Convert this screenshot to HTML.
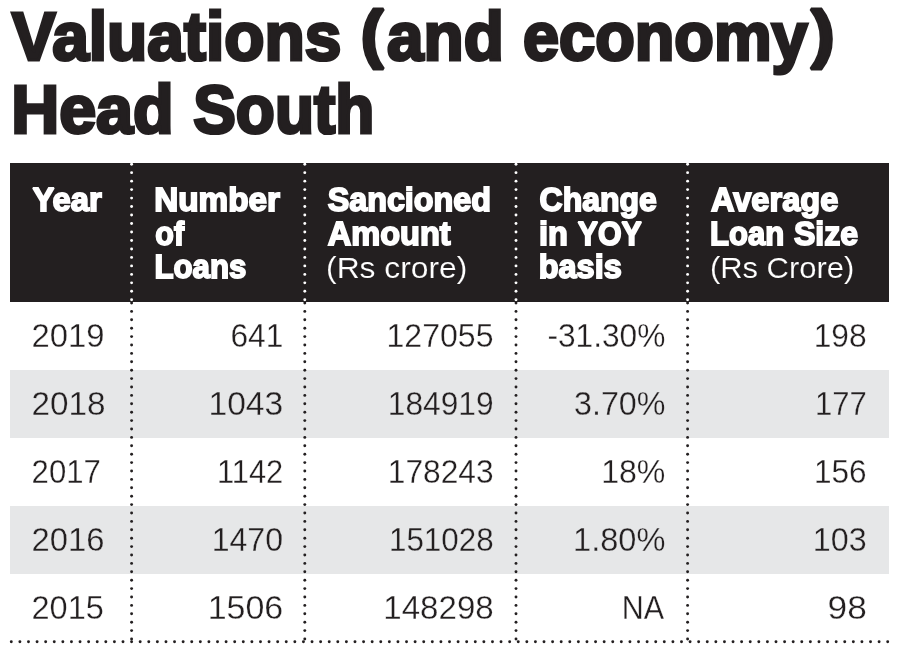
<!DOCTYPE html>
<html><head><meta charset="utf-8"><title>Valuations (and economy) Head South</title>
<style>
html,body{margin:0;padding:0;background:#fff;width:900px;height:654px;overflow:hidden}
svg{display:block;will-change:transform}
text{font-family:"Liberation Sans",sans-serif}
</style></head><body>
<svg width="900" height="654" viewBox="0 0 900 654">
<rect x="10" y="163" width="879" height="139" fill="#231f20"/>
<rect x="10" y="370" width="879" height="68" fill="#e6e7e8"/>
<rect x="10" y="506" width="879" height="68" fill="#e6e7e8"/>
<text x="11.85" y="60.40" font-size="68.02" font-weight="bold" textLength="329.52" lengthAdjust="spacingAndGlyphs" fill="#231f20" stroke="#231f20" stroke-width="3.2" stroke-linejoin="miter" stroke-miterlimit="2">Valuations</text>
<text x="360.81" y="56.09" font-size="64.15" font-weight="bold" textLength="22.65" lengthAdjust="spacingAndGlyphs" fill="#231f20" stroke="#231f20" stroke-width="3.2" stroke-linejoin="miter" stroke-miterlimit="2">(</text>
<text x="387.08" y="60.40" font-size="68.02" font-weight="bold" textLength="116.65" lengthAdjust="spacingAndGlyphs" fill="#231f20" stroke="#231f20" stroke-width="3.2" stroke-linejoin="miter" stroke-miterlimit="2">and</text>
<text x="523.07" y="60.40" font-size="68.02" font-weight="bold" textLength="284.58" lengthAdjust="spacingAndGlyphs" fill="#231f20" stroke="#231f20" stroke-width="3.2" stroke-linejoin="miter" stroke-miterlimit="2">economy</text>
<text x="811.03" y="56.09" font-size="64.15" font-weight="bold" textLength="23.60" lengthAdjust="spacingAndGlyphs" fill="#231f20" stroke="#231f20" stroke-width="3.2" stroke-linejoin="miter" stroke-miterlimit="2">)</text>
<text x="11.15" y="133.40" font-size="68.02" font-weight="bold" textLength="162.53" lengthAdjust="spacingAndGlyphs" fill="#231f20" stroke="#231f20" stroke-width="3.2" stroke-linejoin="miter" stroke-miterlimit="2">Head</text>
<text x="193.16" y="133.40" font-size="68.02" font-weight="bold" textLength="181.21" lengthAdjust="spacingAndGlyphs" fill="#231f20" stroke="#231f20" stroke-width="3.2" stroke-linejoin="miter" stroke-miterlimit="2">South</text>
<text x="32.55" y="210.80" font-size="33.14" font-weight="bold" textLength="69.23" lengthAdjust="spacingAndGlyphs" fill="#fff" stroke="#fff" stroke-width="1.8" stroke-linejoin="miter" stroke-miterlimit="2">Year</text>
<text x="154.27" y="210.80" font-size="33.14" font-weight="bold" textLength="125.73" lengthAdjust="spacingAndGlyphs" fill="#fff" stroke="#fff" stroke-width="1.8" stroke-linejoin="miter" stroke-miterlimit="2">Number</text>
<text x="155.31" y="244.60" font-size="33.14" font-weight="bold" textLength="28.73" lengthAdjust="spacingAndGlyphs" fill="#fff" stroke="#fff" stroke-width="1.8" stroke-linejoin="miter" stroke-miterlimit="2">of</text>
<text x="154.41" y="277.80" font-size="33.14" font-weight="bold" textLength="91.97" lengthAdjust="spacingAndGlyphs" fill="#fff" stroke="#fff" stroke-width="1.8" stroke-linejoin="miter" stroke-miterlimit="2">Loans</text>
<text x="327.67" y="210.80" font-size="33.14" font-weight="bold" textLength="163.36" lengthAdjust="spacingAndGlyphs" fill="#fff" stroke="#fff" stroke-width="1.8" stroke-linejoin="miter" stroke-miterlimit="2">Sancioned</text>
<text x="327.79" y="244.60" font-size="33.14" font-weight="bold" textLength="122.91" lengthAdjust="spacingAndGlyphs" fill="#fff" stroke="#fff" stroke-width="1.8" stroke-linejoin="miter" stroke-miterlimit="2">Amount</text>
<text x="539.59" y="210.80" font-size="33.14" font-weight="bold" textLength="117.31" lengthAdjust="spacingAndGlyphs" fill="#fff" stroke="#fff" stroke-width="1.8" stroke-linejoin="miter" stroke-miterlimit="2">Change</text>
<text x="538.93" y="244.60" font-size="33.14" font-weight="bold" textLength="28.89" lengthAdjust="spacingAndGlyphs" fill="#fff" stroke="#fff" stroke-width="1.8" stroke-linejoin="miter" stroke-miterlimit="2">in</text>
<text x="577.78" y="244.60" font-size="33.14" font-weight="bold" textLength="64.11" lengthAdjust="spacingAndGlyphs" fill="#fff" stroke="#fff" stroke-width="1.8" stroke-linejoin="miter" stroke-miterlimit="2">YOY</text>
<text x="538.76" y="277.80" font-size="33.14" font-weight="bold" textLength="82.97" lengthAdjust="spacingAndGlyphs" fill="#fff" stroke="#fff" stroke-width="1.8" stroke-linejoin="miter" stroke-miterlimit="2">basis</text>
<text x="710.90" y="210.80" font-size="33.14" font-weight="bold" textLength="127.41" lengthAdjust="spacingAndGlyphs" fill="#fff" stroke="#fff" stroke-width="1.8" stroke-linejoin="miter" stroke-miterlimit="2">Average</text>
<text x="710.12" y="244.60" font-size="33.14" font-weight="bold" textLength="74.10" lengthAdjust="spacingAndGlyphs" fill="#fff" stroke="#fff" stroke-width="1.8" stroke-linejoin="miter" stroke-miterlimit="2">Loan</text>
<text x="793.88" y="244.60" font-size="33.14" font-weight="bold" textLength="64.22" lengthAdjust="spacingAndGlyphs" fill="#fff" stroke="#fff" stroke-width="1.8" stroke-linejoin="miter" stroke-miterlimit="2">Size</text>
<text x="326.05" y="278.47" font-size="29.14" font-weight="normal" textLength="141.29" lengthAdjust="spacingAndGlyphs" fill="#fff" stroke="#231f20" stroke-width="0.15" stroke-linejoin="miter" stroke-miterlimit="2">(Rs crore)</text>
<text x="709.91" y="278.47" font-size="29.14" font-weight="normal" textLength="144.39" lengthAdjust="spacingAndGlyphs" fill="#fff" stroke="#231f20" stroke-width="0.15" stroke-linejoin="miter" stroke-miterlimit="2">(Rs Crore)</text>
<text x="31.50" y="347.05" font-size="33.08" font-weight="normal" textLength="73.00" lengthAdjust="spacingAndGlyphs" fill="#231f20" stroke="#fff" stroke-width="0.3" stroke-linejoin="miter" stroke-miterlimit="2">2019</text>
<text x="230.44" y="347.05" font-size="33.08" font-weight="normal" textLength="52.86" lengthAdjust="spacingAndGlyphs" fill="#231f20" stroke="#fff" stroke-width="0.3" stroke-linejoin="miter" stroke-miterlimit="2">641</text>
<text x="386.51" y="347.05" font-size="33.08" font-weight="normal" textLength="106.99" lengthAdjust="spacingAndGlyphs" fill="#231f20" stroke="#fff" stroke-width="0.3" stroke-linejoin="miter" stroke-miterlimit="2">127055</text>
<text x="547.44" y="347.05" font-size="33.08" font-weight="normal" textLength="117.94" lengthAdjust="spacingAndGlyphs" fill="#231f20" stroke="#fff" stroke-width="0.3" stroke-linejoin="miter" stroke-miterlimit="2">-31.30%</text>
<text x="813.63" y="347.05" font-size="33.08" font-weight="normal" textLength="53.00" lengthAdjust="spacingAndGlyphs" fill="#231f20" stroke="#fff" stroke-width="0.3" stroke-linejoin="miter" stroke-miterlimit="2">198</text>
<text x="31.48" y="414.95" font-size="33.08" font-weight="normal" textLength="74.02" lengthAdjust="spacingAndGlyphs" fill="#231f20" stroke="#e6e7e8" stroke-width="0.3" stroke-linejoin="miter" stroke-miterlimit="2">2018</text>
<text x="208.49" y="414.95" font-size="33.08" font-weight="normal" textLength="74.74" lengthAdjust="spacingAndGlyphs" fill="#231f20" stroke="#e6e7e8" stroke-width="0.3" stroke-linejoin="miter" stroke-miterlimit="2">1043</text>
<text x="387.83" y="414.95" font-size="33.08" font-weight="normal" textLength="105.82" lengthAdjust="spacingAndGlyphs" fill="#231f20" stroke="#e6e7e8" stroke-width="0.3" stroke-linejoin="miter" stroke-miterlimit="2">184919</text>
<text x="574.02" y="414.95" font-size="33.08" font-weight="normal" textLength="91.38" lengthAdjust="spacingAndGlyphs" fill="#231f20" stroke="#e6e7e8" stroke-width="0.3" stroke-linejoin="miter" stroke-miterlimit="2">3.70%</text>
<text x="815.08" y="414.95" font-size="33.08" font-weight="normal" textLength="51.83" lengthAdjust="spacingAndGlyphs" fill="#231f20" stroke="#e6e7e8" stroke-width="0.3" stroke-linejoin="miter" stroke-miterlimit="2">177</text>
<text x="31.58" y="482.85" font-size="33.08" font-weight="normal" textLength="69.23" lengthAdjust="spacingAndGlyphs" fill="#231f20" stroke="#fff" stroke-width="0.3" stroke-linejoin="miter" stroke-miterlimit="2">2017</text>
<text x="216.88" y="482.85" font-size="33.08" font-weight="normal" textLength="66.37" lengthAdjust="spacingAndGlyphs" fill="#231f20" stroke="#fff" stroke-width="0.3" stroke-linejoin="miter" stroke-miterlimit="2">1142</text>
<text x="387.84" y="482.85" font-size="33.08" font-weight="normal" textLength="105.71" lengthAdjust="spacingAndGlyphs" fill="#231f20" stroke="#fff" stroke-width="0.3" stroke-linejoin="miter" stroke-miterlimit="2">178243</text>
<text x="601.21" y="482.85" font-size="33.08" font-weight="normal" textLength="64.19" lengthAdjust="spacingAndGlyphs" fill="#231f20" stroke="#fff" stroke-width="0.3" stroke-linejoin="miter" stroke-miterlimit="2">18%</text>
<text x="813.94" y="482.85" font-size="33.08" font-weight="normal" textLength="52.69" lengthAdjust="spacingAndGlyphs" fill="#231f20" stroke="#fff" stroke-width="0.3" stroke-linejoin="miter" stroke-miterlimit="2">156</text>
<text x="31.50" y="550.75" font-size="33.08" font-weight="normal" textLength="72.89" lengthAdjust="spacingAndGlyphs" fill="#231f20" stroke="#e6e7e8" stroke-width="0.3" stroke-linejoin="miter" stroke-miterlimit="2">2016</text>
<text x="211.71" y="550.75" font-size="33.08" font-weight="normal" textLength="71.29" lengthAdjust="spacingAndGlyphs" fill="#231f20" stroke="#e6e7e8" stroke-width="0.3" stroke-linejoin="miter" stroke-miterlimit="2">1470</text>
<text x="388.96" y="550.75" font-size="33.08" font-weight="normal" textLength="104.65" lengthAdjust="spacingAndGlyphs" fill="#231f20" stroke="#e6e7e8" stroke-width="0.3" stroke-linejoin="miter" stroke-miterlimit="2">151028</text>
<text x="573.07" y="550.75" font-size="33.08" font-weight="normal" textLength="92.34" lengthAdjust="spacingAndGlyphs" fill="#231f20" stroke="#e6e7e8" stroke-width="0.3" stroke-linejoin="miter" stroke-miterlimit="2">1.80%</text>
<text x="812.79" y="550.75" font-size="33.08" font-weight="normal" textLength="53.88" lengthAdjust="spacingAndGlyphs" fill="#231f20" stroke="#e6e7e8" stroke-width="0.3" stroke-linejoin="miter" stroke-miterlimit="2">103</text>
<text x="31.51" y="618.65" font-size="33.08" font-weight="normal" textLength="72.40" lengthAdjust="spacingAndGlyphs" fill="#231f20" stroke="#fff" stroke-width="0.3" stroke-linejoin="miter" stroke-miterlimit="2">2015</text>
<text x="207.66" y="618.65" font-size="33.08" font-weight="normal" textLength="75.58" lengthAdjust="spacingAndGlyphs" fill="#231f20" stroke="#fff" stroke-width="0.3" stroke-linejoin="miter" stroke-miterlimit="2">1506</text>
<text x="383.33" y="618.65" font-size="33.08" font-weight="normal" textLength="110.36" lengthAdjust="spacingAndGlyphs" fill="#231f20" stroke="#fff" stroke-width="0.3" stroke-linejoin="miter" stroke-miterlimit="2">148298</text>
<text x="621.75" y="618.65" font-size="33.58" font-weight="normal" textLength="42.36" lengthAdjust="spacingAndGlyphs" fill="#231f20" stroke="#fff" stroke-width="0.3" stroke-linejoin="miter" stroke-miterlimit="2">NA</text>
<text x="827.60" y="618.65" font-size="33.08" font-weight="normal" textLength="39.18" lengthAdjust="spacingAndGlyphs" fill="#231f20" stroke="#fff" stroke-width="0.3" stroke-linejoin="miter" stroke-miterlimit="2">98</text>
<g><circle cx="131.6" cy="164.20" r="1.45" fill="#fff"/><circle cx="131.6" cy="172.67" r="1.45" fill="#fff"/><circle cx="131.6" cy="181.15" r="1.45" fill="#fff"/><circle cx="131.6" cy="189.62" r="1.45" fill="#fff"/><circle cx="131.6" cy="198.10" r="1.45" fill="#fff"/><circle cx="131.6" cy="206.57" r="1.45" fill="#fff"/><circle cx="131.6" cy="215.05" r="1.45" fill="#fff"/><circle cx="131.6" cy="223.52" r="1.45" fill="#fff"/><circle cx="131.6" cy="232.00" r="1.45" fill="#fff"/><circle cx="131.6" cy="240.47" r="1.45" fill="#fff"/><circle cx="131.6" cy="248.95" r="1.45" fill="#fff"/><circle cx="131.6" cy="257.42" r="1.45" fill="#fff"/><circle cx="131.6" cy="265.90" r="1.45" fill="#fff"/><circle cx="131.6" cy="274.38" r="1.45" fill="#fff"/><circle cx="131.6" cy="282.85" r="1.45" fill="#fff"/><circle cx="131.6" cy="291.32" r="1.45" fill="#fff"/><circle cx="131.6" cy="299.80" r="1.45" fill="#fff"/><circle cx="131.6" cy="303.00" r="1.45" fill="#231f20"/><circle cx="131.6" cy="311.40" r="1.45" fill="#231f20"/><circle cx="131.6" cy="319.80" r="1.45" fill="#231f20"/><circle cx="131.6" cy="328.20" r="1.45" fill="#231f20"/><circle cx="131.6" cy="336.60" r="1.45" fill="#231f20"/><circle cx="131.6" cy="345.00" r="1.45" fill="#231f20"/><circle cx="131.6" cy="353.40" r="1.45" fill="#231f20"/><circle cx="131.6" cy="361.80" r="1.45" fill="#231f20"/><circle cx="131.6" cy="370.20" r="1.45" fill="#231f20"/><circle cx="131.6" cy="378.60" r="1.45" fill="#231f20"/><circle cx="131.6" cy="387.00" r="1.45" fill="#231f20"/><circle cx="131.6" cy="395.40" r="1.45" fill="#231f20"/><circle cx="131.6" cy="403.80" r="1.45" fill="#231f20"/><circle cx="131.6" cy="412.20" r="1.45" fill="#231f20"/><circle cx="131.6" cy="420.60" r="1.45" fill="#231f20"/><circle cx="131.6" cy="429.00" r="1.45" fill="#231f20"/><circle cx="131.6" cy="437.40" r="1.45" fill="#231f20"/><circle cx="131.6" cy="445.80" r="1.45" fill="#231f20"/><circle cx="131.6" cy="454.20" r="1.45" fill="#231f20"/><circle cx="131.6" cy="462.60" r="1.45" fill="#231f20"/><circle cx="131.6" cy="471.00" r="1.45" fill="#231f20"/><circle cx="131.6" cy="479.40" r="1.45" fill="#231f20"/><circle cx="131.6" cy="487.80" r="1.45" fill="#231f20"/><circle cx="131.6" cy="496.20" r="1.45" fill="#231f20"/><circle cx="131.6" cy="504.60" r="1.45" fill="#231f20"/><circle cx="131.6" cy="513.00" r="1.45" fill="#231f20"/><circle cx="131.6" cy="521.40" r="1.45" fill="#231f20"/><circle cx="131.6" cy="529.80" r="1.45" fill="#231f20"/><circle cx="131.6" cy="538.20" r="1.45" fill="#231f20"/><circle cx="131.6" cy="546.60" r="1.45" fill="#231f20"/><circle cx="131.6" cy="555.00" r="1.45" fill="#231f20"/><circle cx="131.6" cy="563.40" r="1.45" fill="#231f20"/><circle cx="131.6" cy="571.80" r="1.45" fill="#231f20"/><circle cx="131.6" cy="580.20" r="1.45" fill="#231f20"/><circle cx="131.6" cy="588.60" r="1.45" fill="#231f20"/><circle cx="131.6" cy="597.00" r="1.45" fill="#231f20"/><circle cx="131.6" cy="605.40" r="1.45" fill="#231f20"/><circle cx="131.6" cy="613.80" r="1.45" fill="#231f20"/><circle cx="131.6" cy="622.20" r="1.45" fill="#231f20"/><circle cx="131.6" cy="630.60" r="1.45" fill="#231f20"/><circle cx="131.6" cy="639.00" r="1.45" fill="#231f20"/><circle cx="304.8" cy="164.20" r="1.45" fill="#fff"/><circle cx="304.8" cy="172.67" r="1.45" fill="#fff"/><circle cx="304.8" cy="181.15" r="1.45" fill="#fff"/><circle cx="304.8" cy="189.62" r="1.45" fill="#fff"/><circle cx="304.8" cy="198.10" r="1.45" fill="#fff"/><circle cx="304.8" cy="206.57" r="1.45" fill="#fff"/><circle cx="304.8" cy="215.05" r="1.45" fill="#fff"/><circle cx="304.8" cy="223.52" r="1.45" fill="#fff"/><circle cx="304.8" cy="232.00" r="1.45" fill="#fff"/><circle cx="304.8" cy="240.47" r="1.45" fill="#fff"/><circle cx="304.8" cy="248.95" r="1.45" fill="#fff"/><circle cx="304.8" cy="257.42" r="1.45" fill="#fff"/><circle cx="304.8" cy="265.90" r="1.45" fill="#fff"/><circle cx="304.8" cy="274.38" r="1.45" fill="#fff"/><circle cx="304.8" cy="282.85" r="1.45" fill="#fff"/><circle cx="304.8" cy="291.32" r="1.45" fill="#fff"/><circle cx="304.8" cy="299.80" r="1.45" fill="#fff"/><circle cx="304.8" cy="303.00" r="1.45" fill="#231f20"/><circle cx="304.8" cy="311.40" r="1.45" fill="#231f20"/><circle cx="304.8" cy="319.80" r="1.45" fill="#231f20"/><circle cx="304.8" cy="328.20" r="1.45" fill="#231f20"/><circle cx="304.8" cy="336.60" r="1.45" fill="#231f20"/><circle cx="304.8" cy="345.00" r="1.45" fill="#231f20"/><circle cx="304.8" cy="353.40" r="1.45" fill="#231f20"/><circle cx="304.8" cy="361.80" r="1.45" fill="#231f20"/><circle cx="304.8" cy="370.20" r="1.45" fill="#231f20"/><circle cx="304.8" cy="378.60" r="1.45" fill="#231f20"/><circle cx="304.8" cy="387.00" r="1.45" fill="#231f20"/><circle cx="304.8" cy="395.40" r="1.45" fill="#231f20"/><circle cx="304.8" cy="403.80" r="1.45" fill="#231f20"/><circle cx="304.8" cy="412.20" r="1.45" fill="#231f20"/><circle cx="304.8" cy="420.60" r="1.45" fill="#231f20"/><circle cx="304.8" cy="429.00" r="1.45" fill="#231f20"/><circle cx="304.8" cy="437.40" r="1.45" fill="#231f20"/><circle cx="304.8" cy="445.80" r="1.45" fill="#231f20"/><circle cx="304.8" cy="454.20" r="1.45" fill="#231f20"/><circle cx="304.8" cy="462.60" r="1.45" fill="#231f20"/><circle cx="304.8" cy="471.00" r="1.45" fill="#231f20"/><circle cx="304.8" cy="479.40" r="1.45" fill="#231f20"/><circle cx="304.8" cy="487.80" r="1.45" fill="#231f20"/><circle cx="304.8" cy="496.20" r="1.45" fill="#231f20"/><circle cx="304.8" cy="504.60" r="1.45" fill="#231f20"/><circle cx="304.8" cy="513.00" r="1.45" fill="#231f20"/><circle cx="304.8" cy="521.40" r="1.45" fill="#231f20"/><circle cx="304.8" cy="529.80" r="1.45" fill="#231f20"/><circle cx="304.8" cy="538.20" r="1.45" fill="#231f20"/><circle cx="304.8" cy="546.60" r="1.45" fill="#231f20"/><circle cx="304.8" cy="555.00" r="1.45" fill="#231f20"/><circle cx="304.8" cy="563.40" r="1.45" fill="#231f20"/><circle cx="304.8" cy="571.80" r="1.45" fill="#231f20"/><circle cx="304.8" cy="580.20" r="1.45" fill="#231f20"/><circle cx="304.8" cy="588.60" r="1.45" fill="#231f20"/><circle cx="304.8" cy="597.00" r="1.45" fill="#231f20"/><circle cx="304.8" cy="605.40" r="1.45" fill="#231f20"/><circle cx="304.8" cy="613.80" r="1.45" fill="#231f20"/><circle cx="304.8" cy="622.20" r="1.45" fill="#231f20"/><circle cx="304.8" cy="630.60" r="1.45" fill="#231f20"/><circle cx="304.8" cy="639.00" r="1.45" fill="#231f20"/><circle cx="516.0" cy="164.20" r="1.45" fill="#fff"/><circle cx="516.0" cy="172.67" r="1.45" fill="#fff"/><circle cx="516.0" cy="181.15" r="1.45" fill="#fff"/><circle cx="516.0" cy="189.62" r="1.45" fill="#fff"/><circle cx="516.0" cy="198.10" r="1.45" fill="#fff"/><circle cx="516.0" cy="206.57" r="1.45" fill="#fff"/><circle cx="516.0" cy="215.05" r="1.45" fill="#fff"/><circle cx="516.0" cy="223.52" r="1.45" fill="#fff"/><circle cx="516.0" cy="232.00" r="1.45" fill="#fff"/><circle cx="516.0" cy="240.47" r="1.45" fill="#fff"/><circle cx="516.0" cy="248.95" r="1.45" fill="#fff"/><circle cx="516.0" cy="257.42" r="1.45" fill="#fff"/><circle cx="516.0" cy="265.90" r="1.45" fill="#fff"/><circle cx="516.0" cy="274.38" r="1.45" fill="#fff"/><circle cx="516.0" cy="282.85" r="1.45" fill="#fff"/><circle cx="516.0" cy="291.32" r="1.45" fill="#fff"/><circle cx="516.0" cy="299.80" r="1.45" fill="#fff"/><circle cx="516.0" cy="303.00" r="1.45" fill="#231f20"/><circle cx="516.0" cy="311.40" r="1.45" fill="#231f20"/><circle cx="516.0" cy="319.80" r="1.45" fill="#231f20"/><circle cx="516.0" cy="328.20" r="1.45" fill="#231f20"/><circle cx="516.0" cy="336.60" r="1.45" fill="#231f20"/><circle cx="516.0" cy="345.00" r="1.45" fill="#231f20"/><circle cx="516.0" cy="353.40" r="1.45" fill="#231f20"/><circle cx="516.0" cy="361.80" r="1.45" fill="#231f20"/><circle cx="516.0" cy="370.20" r="1.45" fill="#231f20"/><circle cx="516.0" cy="378.60" r="1.45" fill="#231f20"/><circle cx="516.0" cy="387.00" r="1.45" fill="#231f20"/><circle cx="516.0" cy="395.40" r="1.45" fill="#231f20"/><circle cx="516.0" cy="403.80" r="1.45" fill="#231f20"/><circle cx="516.0" cy="412.20" r="1.45" fill="#231f20"/><circle cx="516.0" cy="420.60" r="1.45" fill="#231f20"/><circle cx="516.0" cy="429.00" r="1.45" fill="#231f20"/><circle cx="516.0" cy="437.40" r="1.45" fill="#231f20"/><circle cx="516.0" cy="445.80" r="1.45" fill="#231f20"/><circle cx="516.0" cy="454.20" r="1.45" fill="#231f20"/><circle cx="516.0" cy="462.60" r="1.45" fill="#231f20"/><circle cx="516.0" cy="471.00" r="1.45" fill="#231f20"/><circle cx="516.0" cy="479.40" r="1.45" fill="#231f20"/><circle cx="516.0" cy="487.80" r="1.45" fill="#231f20"/><circle cx="516.0" cy="496.20" r="1.45" fill="#231f20"/><circle cx="516.0" cy="504.60" r="1.45" fill="#231f20"/><circle cx="516.0" cy="513.00" r="1.45" fill="#231f20"/><circle cx="516.0" cy="521.40" r="1.45" fill="#231f20"/><circle cx="516.0" cy="529.80" r="1.45" fill="#231f20"/><circle cx="516.0" cy="538.20" r="1.45" fill="#231f20"/><circle cx="516.0" cy="546.60" r="1.45" fill="#231f20"/><circle cx="516.0" cy="555.00" r="1.45" fill="#231f20"/><circle cx="516.0" cy="563.40" r="1.45" fill="#231f20"/><circle cx="516.0" cy="571.80" r="1.45" fill="#231f20"/><circle cx="516.0" cy="580.20" r="1.45" fill="#231f20"/><circle cx="516.0" cy="588.60" r="1.45" fill="#231f20"/><circle cx="516.0" cy="597.00" r="1.45" fill="#231f20"/><circle cx="516.0" cy="605.40" r="1.45" fill="#231f20"/><circle cx="516.0" cy="613.80" r="1.45" fill="#231f20"/><circle cx="516.0" cy="622.20" r="1.45" fill="#231f20"/><circle cx="516.0" cy="630.60" r="1.45" fill="#231f20"/><circle cx="516.0" cy="639.00" r="1.45" fill="#231f20"/><circle cx="687.6" cy="164.20" r="1.45" fill="#fff"/><circle cx="687.6" cy="172.67" r="1.45" fill="#fff"/><circle cx="687.6" cy="181.15" r="1.45" fill="#fff"/><circle cx="687.6" cy="189.62" r="1.45" fill="#fff"/><circle cx="687.6" cy="198.10" r="1.45" fill="#fff"/><circle cx="687.6" cy="206.57" r="1.45" fill="#fff"/><circle cx="687.6" cy="215.05" r="1.45" fill="#fff"/><circle cx="687.6" cy="223.52" r="1.45" fill="#fff"/><circle cx="687.6" cy="232.00" r="1.45" fill="#fff"/><circle cx="687.6" cy="240.47" r="1.45" fill="#fff"/><circle cx="687.6" cy="248.95" r="1.45" fill="#fff"/><circle cx="687.6" cy="257.42" r="1.45" fill="#fff"/><circle cx="687.6" cy="265.90" r="1.45" fill="#fff"/><circle cx="687.6" cy="274.38" r="1.45" fill="#fff"/><circle cx="687.6" cy="282.85" r="1.45" fill="#fff"/><circle cx="687.6" cy="291.32" r="1.45" fill="#fff"/><circle cx="687.6" cy="299.80" r="1.45" fill="#fff"/><circle cx="687.6" cy="303.00" r="1.45" fill="#231f20"/><circle cx="687.6" cy="311.40" r="1.45" fill="#231f20"/><circle cx="687.6" cy="319.80" r="1.45" fill="#231f20"/><circle cx="687.6" cy="328.20" r="1.45" fill="#231f20"/><circle cx="687.6" cy="336.60" r="1.45" fill="#231f20"/><circle cx="687.6" cy="345.00" r="1.45" fill="#231f20"/><circle cx="687.6" cy="353.40" r="1.45" fill="#231f20"/><circle cx="687.6" cy="361.80" r="1.45" fill="#231f20"/><circle cx="687.6" cy="370.20" r="1.45" fill="#231f20"/><circle cx="687.6" cy="378.60" r="1.45" fill="#231f20"/><circle cx="687.6" cy="387.00" r="1.45" fill="#231f20"/><circle cx="687.6" cy="395.40" r="1.45" fill="#231f20"/><circle cx="687.6" cy="403.80" r="1.45" fill="#231f20"/><circle cx="687.6" cy="412.20" r="1.45" fill="#231f20"/><circle cx="687.6" cy="420.60" r="1.45" fill="#231f20"/><circle cx="687.6" cy="429.00" r="1.45" fill="#231f20"/><circle cx="687.6" cy="437.40" r="1.45" fill="#231f20"/><circle cx="687.6" cy="445.80" r="1.45" fill="#231f20"/><circle cx="687.6" cy="454.20" r="1.45" fill="#231f20"/><circle cx="687.6" cy="462.60" r="1.45" fill="#231f20"/><circle cx="687.6" cy="471.00" r="1.45" fill="#231f20"/><circle cx="687.6" cy="479.40" r="1.45" fill="#231f20"/><circle cx="687.6" cy="487.80" r="1.45" fill="#231f20"/><circle cx="687.6" cy="496.20" r="1.45" fill="#231f20"/><circle cx="687.6" cy="504.60" r="1.45" fill="#231f20"/><circle cx="687.6" cy="513.00" r="1.45" fill="#231f20"/><circle cx="687.6" cy="521.40" r="1.45" fill="#231f20"/><circle cx="687.6" cy="529.80" r="1.45" fill="#231f20"/><circle cx="687.6" cy="538.20" r="1.45" fill="#231f20"/><circle cx="687.6" cy="546.60" r="1.45" fill="#231f20"/><circle cx="687.6" cy="555.00" r="1.45" fill="#231f20"/><circle cx="687.6" cy="563.40" r="1.45" fill="#231f20"/><circle cx="687.6" cy="571.80" r="1.45" fill="#231f20"/><circle cx="687.6" cy="580.20" r="1.45" fill="#231f20"/><circle cx="687.6" cy="588.60" r="1.45" fill="#231f20"/><circle cx="687.6" cy="597.00" r="1.45" fill="#231f20"/><circle cx="687.6" cy="605.40" r="1.45" fill="#231f20"/><circle cx="687.6" cy="613.80" r="1.45" fill="#231f20"/><circle cx="687.6" cy="622.20" r="1.45" fill="#231f20"/><circle cx="687.6" cy="630.60" r="1.45" fill="#231f20"/><circle cx="687.6" cy="639.00" r="1.45" fill="#231f20"/><circle cx="11.30" cy="641.7" r="1.45" fill="#231f20"/><circle cx="19.89" cy="641.7" r="1.45" fill="#231f20"/><circle cx="28.48" cy="641.7" r="1.45" fill="#231f20"/><circle cx="37.08" cy="641.7" r="1.45" fill="#231f20"/><circle cx="45.67" cy="641.7" r="1.45" fill="#231f20"/><circle cx="54.26" cy="641.7" r="1.45" fill="#231f20"/><circle cx="62.85" cy="641.7" r="1.45" fill="#231f20"/><circle cx="71.45" cy="641.7" r="1.45" fill="#231f20"/><circle cx="80.04" cy="641.7" r="1.45" fill="#231f20"/><circle cx="88.63" cy="641.7" r="1.45" fill="#231f20"/><circle cx="97.22" cy="641.7" r="1.45" fill="#231f20"/><circle cx="105.81" cy="641.7" r="1.45" fill="#231f20"/><circle cx="114.41" cy="641.7" r="1.45" fill="#231f20"/><circle cx="123.00" cy="641.7" r="1.45" fill="#231f20"/><circle cx="131.59" cy="641.7" r="1.45" fill="#231f20"/><circle cx="140.18" cy="641.7" r="1.45" fill="#231f20"/><circle cx="148.77" cy="641.7" r="1.45" fill="#231f20"/><circle cx="157.37" cy="641.7" r="1.45" fill="#231f20"/><circle cx="165.96" cy="641.7" r="1.45" fill="#231f20"/><circle cx="174.55" cy="641.7" r="1.45" fill="#231f20"/><circle cx="183.14" cy="641.7" r="1.45" fill="#231f20"/><circle cx="191.74" cy="641.7" r="1.45" fill="#231f20"/><circle cx="200.33" cy="641.7" r="1.45" fill="#231f20"/><circle cx="208.92" cy="641.7" r="1.45" fill="#231f20"/><circle cx="217.51" cy="641.7" r="1.45" fill="#231f20"/><circle cx="226.10" cy="641.7" r="1.45" fill="#231f20"/><circle cx="234.70" cy="641.7" r="1.45" fill="#231f20"/><circle cx="243.29" cy="641.7" r="1.45" fill="#231f20"/><circle cx="251.88" cy="641.7" r="1.45" fill="#231f20"/><circle cx="260.47" cy="641.7" r="1.45" fill="#231f20"/><circle cx="269.06" cy="641.7" r="1.45" fill="#231f20"/><circle cx="277.66" cy="641.7" r="1.45" fill="#231f20"/><circle cx="286.25" cy="641.7" r="1.45" fill="#231f20"/><circle cx="294.84" cy="641.7" r="1.45" fill="#231f20"/><circle cx="303.43" cy="641.7" r="1.45" fill="#231f20"/><circle cx="312.03" cy="641.7" r="1.45" fill="#231f20"/><circle cx="320.62" cy="641.7" r="1.45" fill="#231f20"/><circle cx="329.21" cy="641.7" r="1.45" fill="#231f20"/><circle cx="337.80" cy="641.7" r="1.45" fill="#231f20"/><circle cx="346.39" cy="641.7" r="1.45" fill="#231f20"/><circle cx="354.99" cy="641.7" r="1.45" fill="#231f20"/><circle cx="363.58" cy="641.7" r="1.45" fill="#231f20"/><circle cx="372.17" cy="641.7" r="1.45" fill="#231f20"/><circle cx="380.76" cy="641.7" r="1.45" fill="#231f20"/><circle cx="389.35" cy="641.7" r="1.45" fill="#231f20"/><circle cx="397.95" cy="641.7" r="1.45" fill="#231f20"/><circle cx="406.54" cy="641.7" r="1.45" fill="#231f20"/><circle cx="415.13" cy="641.7" r="1.45" fill="#231f20"/><circle cx="423.72" cy="641.7" r="1.45" fill="#231f20"/><circle cx="432.32" cy="641.7" r="1.45" fill="#231f20"/><circle cx="440.91" cy="641.7" r="1.45" fill="#231f20"/><circle cx="449.50" cy="641.7" r="1.45" fill="#231f20"/><circle cx="458.09" cy="641.7" r="1.45" fill="#231f20"/><circle cx="466.68" cy="641.7" r="1.45" fill="#231f20"/><circle cx="475.28" cy="641.7" r="1.45" fill="#231f20"/><circle cx="483.87" cy="641.7" r="1.45" fill="#231f20"/><circle cx="492.46" cy="641.7" r="1.45" fill="#231f20"/><circle cx="501.05" cy="641.7" r="1.45" fill="#231f20"/><circle cx="509.65" cy="641.7" r="1.45" fill="#231f20"/><circle cx="518.24" cy="641.7" r="1.45" fill="#231f20"/><circle cx="526.83" cy="641.7" r="1.45" fill="#231f20"/><circle cx="535.42" cy="641.7" r="1.45" fill="#231f20"/><circle cx="544.01" cy="641.7" r="1.45" fill="#231f20"/><circle cx="552.61" cy="641.7" r="1.45" fill="#231f20"/><circle cx="561.20" cy="641.7" r="1.45" fill="#231f20"/><circle cx="569.79" cy="641.7" r="1.45" fill="#231f20"/><circle cx="578.38" cy="641.7" r="1.45" fill="#231f20"/><circle cx="586.97" cy="641.7" r="1.45" fill="#231f20"/><circle cx="595.57" cy="641.7" r="1.45" fill="#231f20"/><circle cx="604.16" cy="641.7" r="1.45" fill="#231f20"/><circle cx="612.75" cy="641.7" r="1.45" fill="#231f20"/><circle cx="621.34" cy="641.7" r="1.45" fill="#231f20"/><circle cx="629.94" cy="641.7" r="1.45" fill="#231f20"/><circle cx="638.53" cy="641.7" r="1.45" fill="#231f20"/><circle cx="647.12" cy="641.7" r="1.45" fill="#231f20"/><circle cx="655.71" cy="641.7" r="1.45" fill="#231f20"/><circle cx="664.30" cy="641.7" r="1.45" fill="#231f20"/><circle cx="672.90" cy="641.7" r="1.45" fill="#231f20"/><circle cx="681.49" cy="641.7" r="1.45" fill="#231f20"/><circle cx="690.08" cy="641.7" r="1.45" fill="#231f20"/><circle cx="698.67" cy="641.7" r="1.45" fill="#231f20"/><circle cx="707.26" cy="641.7" r="1.45" fill="#231f20"/><circle cx="715.86" cy="641.7" r="1.45" fill="#231f20"/><circle cx="724.45" cy="641.7" r="1.45" fill="#231f20"/><circle cx="733.04" cy="641.7" r="1.45" fill="#231f20"/><circle cx="741.63" cy="641.7" r="1.45" fill="#231f20"/><circle cx="750.23" cy="641.7" r="1.45" fill="#231f20"/><circle cx="758.82" cy="641.7" r="1.45" fill="#231f20"/><circle cx="767.41" cy="641.7" r="1.45" fill="#231f20"/><circle cx="776.00" cy="641.7" r="1.45" fill="#231f20"/><circle cx="784.59" cy="641.7" r="1.45" fill="#231f20"/><circle cx="793.19" cy="641.7" r="1.45" fill="#231f20"/><circle cx="801.78" cy="641.7" r="1.45" fill="#231f20"/><circle cx="810.37" cy="641.7" r="1.45" fill="#231f20"/><circle cx="818.96" cy="641.7" r="1.45" fill="#231f20"/><circle cx="827.55" cy="641.7" r="1.45" fill="#231f20"/><circle cx="836.15" cy="641.7" r="1.45" fill="#231f20"/><circle cx="844.74" cy="641.7" r="1.45" fill="#231f20"/><circle cx="853.33" cy="641.7" r="1.45" fill="#231f20"/><circle cx="861.92" cy="641.7" r="1.45" fill="#231f20"/><circle cx="870.52" cy="641.7" r="1.45" fill="#231f20"/><circle cx="879.11" cy="641.7" r="1.45" fill="#231f20"/><circle cx="887.70" cy="641.7" r="1.45" fill="#231f20"/></g>
</svg>
</body></html>
